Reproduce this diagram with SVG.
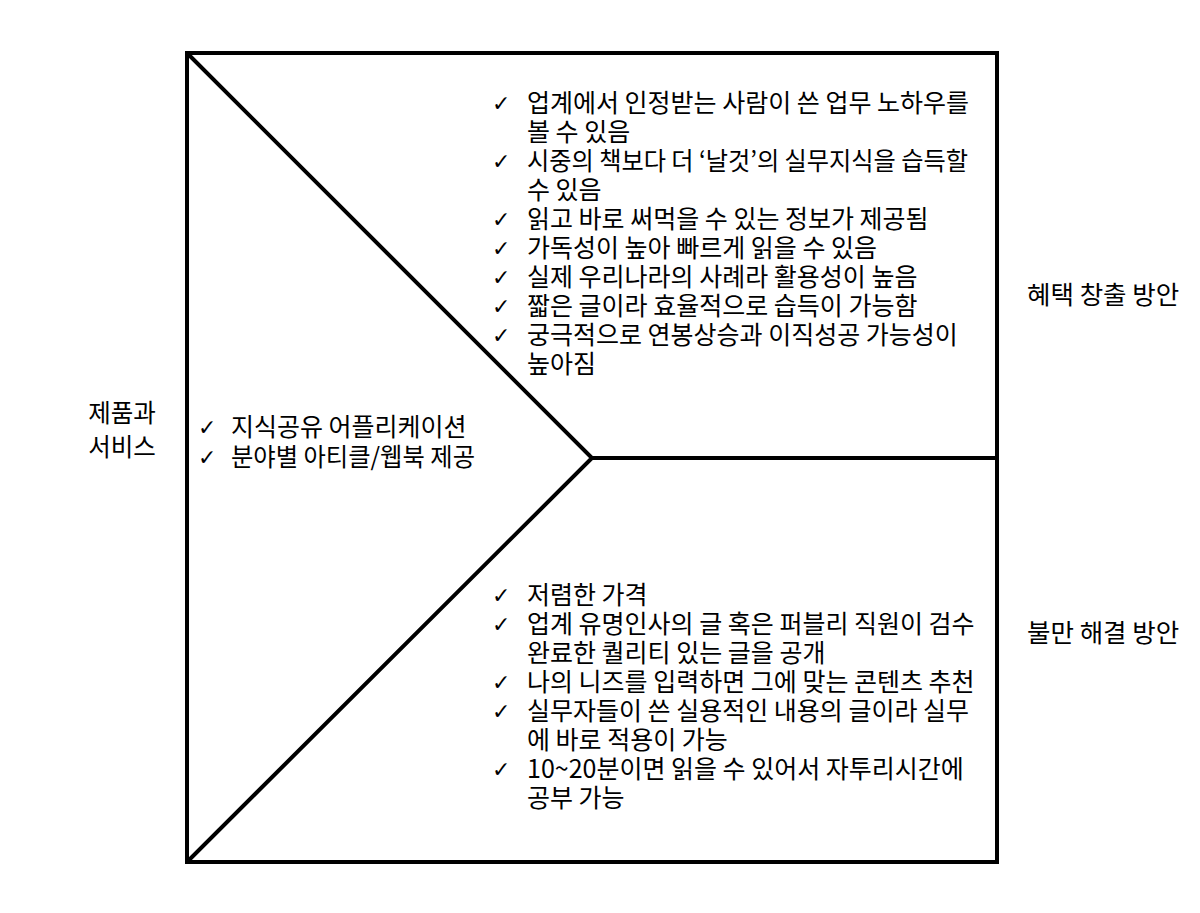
<svg xmlns="http://www.w3.org/2000/svg" width="1200" height="913" viewBox="0 0 1200 913">
<style>
  text { font-family: "Noto Sans CJK KR", "Noto Sans", sans-serif; font-size: 25px; fill: #000; }
  .ck { font-family: "DejaVu Sans", sans-serif; font-size: 22px; font-weight: bold; }
  .lbl { font-size: 25.5px; }
  .lbl2 { font-size: 24.5px; }
  .frame { fill: #fff; stroke: #000; stroke-width: 4; }
  .line { fill: none; stroke: #000; stroke-width: 4; }
</style>
<rect width="1200" height="913" fill="#fff"/>
<g id="frame">
  <rect class="frame" x="187" y="53" width="810" height="809"/>
</g>
<g id="connectors">
  <polyline class="line" points="187,53 592,458 187,862"/>
  <line class="line" x1="592" y1="458" x2="997" y2="458"/>
</g>
<g id="benefits">
  <text class="ck" x="492" y="111">✓</text>
  <text class="ck" x="492" y="169">✓</text>
  <text class="ck" x="492" y="227">✓</text>
  <text class="ck" x="492" y="256">✓</text>
  <text class="ck" x="492" y="285">✓</text>
  <text class="ck" x="492" y="314">✓</text>
  <text class="ck" x="492" y="343">✓</text>
  <text x="527" y="112">업계에서 인정받는 사람이 쓴 업무 노하우를</text>
  <text x="527" y="141">볼 수 있음</text>
  <text x="527" y="170" textLength="441" lengthAdjust="spacingAndGlyphs">시중의 책보다 더 ‘날것’의 실무지식을 습득할</text>
  <text x="527" y="199">수 있음</text>
  <text x="527" y="228">읽고 바로 써먹을 수 있는 정보가 제공됨</text>
  <text x="527" y="257">가독성이 높아 빠르게 읽을 수 있음</text>
  <text x="527" y="286">실제 우리나라의 사례라 활용성이 높음</text>
  <text x="527" y="315">짧은 글이라 효율적으로 습득이 가능함</text>
  <text x="527" y="344">궁극적으로 연봉상승과 이직성공 가능성이</text>
  <text x="527" y="373">높아짐</text>
</g>
<g id="products">
  <text class="ck" x="198" y="435">✓</text>
  <text class="ck" x="198" y="465">✓</text>
  <text x="231" y="436">지식공유 어플리케이션</text>
  <text x="231" y="466" textLength="244" lengthAdjust="spacingAndGlyphs">분야별 아티클/웹북 제공</text>
</g>
<g id="solutions">
  <text class="ck" x="492" y="603">✓</text>
  <text class="ck" x="492" y="632">✓</text>
  <text class="ck" x="492" y="690">✓</text>
  <text class="ck" x="492" y="719">✓</text>
  <text class="ck" x="492" y="777">✓</text>
  <text x="527" y="604">저렴한 가격</text>
  <text x="527" y="633">업계 유명인사의 글 혹은 퍼블리 직원이 검수</text>
  <text x="527" y="662">완료한 퀄리티 있는 글을 공개</text>
  <text x="527" y="691">나의 니즈를 입력하면 그에 맞는 콘텐츠 추천</text>
  <text x="527" y="720">실무자들이 쓴 실용적인 내용의 글이라 실무</text>
  <text x="527" y="749">에 바로 적용이 가능</text>
  <text x="527" y="778">10~20분이면 읽을 수 있어서 자투리시간에</text>
  <text x="527" y="807">공부 가능</text>
</g>
<g id="label-products">
  <text class="lbl2" x="122" y="422" text-anchor="middle">제품과</text>
  <text class="lbl2" x="122" y="456" text-anchor="middle">서비스</text>
</g>
<g id="label-benefit">
  <text class="lbl" x="1027" y="304">혜택 창출 방안</text>
</g>
<g id="label-solution">
  <text class="lbl" x="1027" y="642">불만 해결 방안</text>
</g>
</svg>
